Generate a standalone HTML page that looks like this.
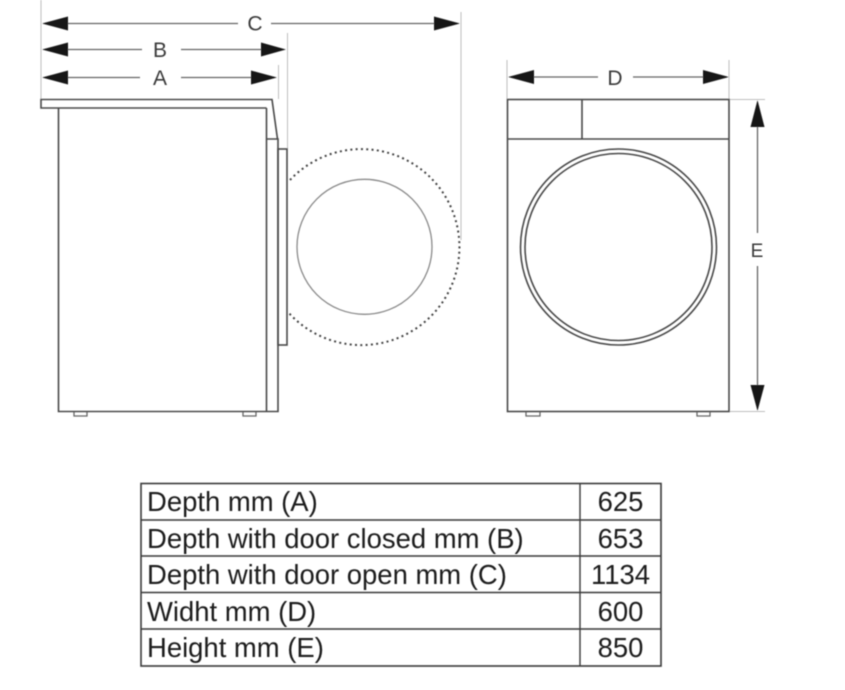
<!DOCTYPE html>
<html>
<head>
<meta charset="utf-8">
<style>
html,body{margin:0;padding:0;background:#fff;width:845px;height:690px;overflow:hidden}
svg{display:block}
text{font-family:"Liberation Sans",sans-serif}
</style>
</head>
<body>
<svg width="845" height="690" viewBox="0 0 845 690" xmlns="http://www.w3.org/2000/svg">
<defs><filter id="b" x="-2%" y="-2%" width="104%" height="104%"><feGaussianBlur stdDeviation="0.45"/></filter></defs>
<rect width="845" height="690" fill="#fff"/>
<g filter="url(#b)">
<!-- extension lines -->
<g stroke="#bdbdbd" stroke-width="1" fill="none">
<path d="M41 0V99M287.500 33V149M278.500 65V99M461 12V240M507 60V99M729 60V99M729 99.500H765M729 411.500H765"/>
</g>
<!-- dimension lines -->
<g stroke="#666" stroke-width="1.300" fill="none">
<path d="M68 23.500H238M271 23.500H434M68 49.500H142M181 49.500H261M68 77.500H140M181 77.500H251M534 77H598M633 77H703"/>
<path d="M757.500 127V233M757.500 266V385"/>
</g>
<!-- arrowheads -->
<g fill="#161616">
<path d="M42 23.500L68 16.500V30.500Z"/><path d="M460 23.500L434 16.500V30.500Z"/>
<path d="M42 49.500L68 42.500V56.500Z"/><path d="M286 49.500L261 42.500V56.500Z"/>
<path d="M42 77.500L68 70.500V84.500Z"/><path d="M277 77.500L251 70.500V84.500Z"/>
<path d="M508 77L534 70V84Z"/><path d="M729 77L703 70V84Z"/>
<path d="M757.500 100L750.500 127H764.500Z"/><path d="M757.500 411L750.500 385H764.500Z"/>
</g>
<!-- dimension labels -->
<g fill="#3a3a3a" font-size="21" text-anchor="middle">
<text x="255" y="30.500">C</text>
<text x="160" y="57">B</text>
<text x="160" y="85">A</text>
<text x="615" y="85">D</text>
<text x="757" y="257" font-size="19">E</text>
</g>
<!-- side view -->
<g stroke="#4a4a4a" stroke-width="1.600" fill="none">
<path d="M266.500 108H41V99.500H272L277.500 139"/>
<path d="M58.500 108V411.500H278V139H266.500M266.500 108V411.500"/>
<rect x="278" y="149" width="9" height="196"/>
<path d="M74 412V416H87V412M243 412V416H256V412" stroke="#666" stroke-width="1.300"/>
</g>
<circle cx="364.500" cy="246.800" r="67.500" fill="none" stroke="#8a8a8a" stroke-width="1.300"/>
<path d="M290 180A98 98 0 1 1 288 312" fill="none" stroke="#444" stroke-width="2" stroke-dasharray="2 3.300"/>
<!-- front view -->
<g stroke="#4a4a4a" stroke-width="1.600" fill="none">
<rect x="507.500" y="99.500" width="221.500" height="312"/>
<path d="M507 139H729M582 99.500V139"/>
<circle cx="618.500" cy="247" r="98"/>
<circle cx="618.500" cy="247" r="93.500"/>
<path d="M526 412V416H540V412M697 412V416H710V412" stroke="#666" stroke-width="1.300"/>
</g>
<!-- table -->
<g stroke="#3a3a3a" fill="none">
<rect x="141" y="483.500" width="520" height="182.500" stroke-width="1.600"/>
<path d="M141 520H661M141 556H661M141 592.500H661M141 629H661M580 483V666" stroke-width="1.400"/>
</g>
<g fill="#1e1e1e" font-size="27.450">
<text x="147" y="511">Depth mm (A)</text>
<text x="147" y="548">Depth with door closed mm (B)</text>
<text x="147" y="584">Depth with door open mm (C)</text>
<text x="147" y="621">Widht mm (D)</text>
<text x="147" y="657">Height mm (E)</text>
</g>
<g fill="#1e1e1e" font-size="27.450" text-anchor="middle">
<text x="620.500" y="511">625</text>
<text x="620.500" y="548">653</text>
<text x="620.500" y="584">1134</text>
<text x="620.500" y="621">600</text>
<text x="620.500" y="657">850</text>
</g>
</g>
</svg>
</body>
</html>
